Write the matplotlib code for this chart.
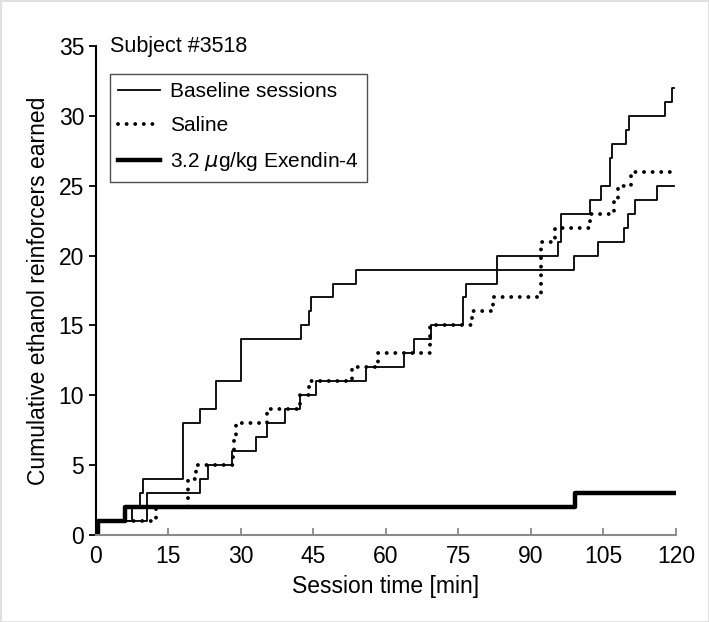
import numpy as np
import matplotlib
matplotlib.use("Agg")
import matplotlib.pyplot as plt

plt.rcParams['font.family'] = ['Liberation Sans', 'DejaVu Sans']

# step data: (time [min], cumulative count)
base1_t = [0, 0.5, 7.5, 9.1, 9.7, 18.0, 21.5, 24.8, 30.0, 42.5, 44.0, 44.5, 49.1, 53.7,
           98.8, 103.9, 109.3, 110.0, 111.5, 116.0, 119.5]
base1_y = [0, 1, 2, 3, 4, 8, 9, 11, 14, 15, 16, 17, 18, 19,
           20, 21, 22, 23, 24, 25, 25]

base2_t = [0, 0.5, 10.6, 21.5, 23.2, 28.1, 33.1, 35.3, 39.2, 42.2, 45.5, 55.8, 63.8, 65.9,
           69.3, 76.0, 76.5, 82.9, 95.5, 96.3, 102.2, 104.5, 106.4, 106.7, 109.7, 110.3,
           117.7, 119.1, 119.5]
base2_y = [0, 1, 3, 4, 5, 6, 7, 8, 9, 10, 11, 12, 13, 14,
           15, 17, 18, 20, 21, 23, 24, 25, 27, 28, 29, 30,
           31, 32, 32]

saline_t = [0, 0.5, 12.4, 19.0, 20.6, 28.4, 28.6, 28.9, 35.3, 42.2, 44.1, 53.0, 58.3, 69.1,
            77.9, 82.2, 92.0, 95.0, 102.3, 107.1, 108.1, 110.8, 119.5]
saline_y = [0, 1, 2, 4, 5, 6, 7, 8, 9, 10, 11, 12, 13, 15,
            16, 17, 21, 22, 23, 24, 25, 26, 26]

exendin_t = [0, 0.5, 6.0, 99.1, 120]
exendin_y = [0, 1, 2, 3, 3]

xticks = [0, 15, 30, 45, 60, 75, 90, 105, 120]
yticks = [0, 5, 10, 15, 20, 25, 30, 35]

fig = plt.figure(figsize=(7.09, 6.22), dpi=100)
fig.patch.set_edgecolor('#e0e0e0')
fig.patch.set_linewidth(1.0)
ax = fig.add_axes([0.1354, 0.1399, 0.818, 0.7861])

ax.step(base1_t, base1_y, where='post', color='black', lw=1.3, label='Baseline sessions')
ax.step(base2_t, base2_y, where='post', color='black', lw=1.3)
ax.step(saline_t, saline_y, where='post', color='black', lw=2.8,
        linestyle=(0, (0.01, 2.2)), dash_capstyle='round', label='Saline')
ax.step(exendin_t, exendin_y, where='post', color='black', lw=3.2,
        label=r'3.2 $\mu$g/kg Exendin-4')

ax.set_xlim(0, 120)
ax.set_ylim(0, 35)
ax.set_xticks(xticks)
ax.set_yticks(yticks)
ax.spines['top'].set_visible(False)
ax.spines['right'].set_visible(False)
ax.spines['bottom'].set_color('#8a8a8a')
ax.spines['bottom'].set_linewidth(1.5)
ax.spines['left'].set_linewidth(1.5)
ax.tick_params(axis='x', direction='in', length=5, width=1.3, color='#8a8a8a', labelsize=16.5, pad=7)
ax.tick_params(axis='y', direction='out', length=5, width=1.3, labelsize=16.5)

ax.set_xlabel('Session time [min]', fontsize=16.5, labelpad=5)
ax.set_ylabel('Cumulative ethanol reinforcers earned', fontsize=16.5, labelpad=6)

ax.text(0.025, 1.0, 'Subject #3518', transform=ax.transAxes, fontsize=15.5, va='center', ha='left')

leg = ax.legend(loc='upper left', bbox_to_anchor=(0.024, 0.943), borderaxespad=0, fontsize=15,
                frameon=True, fancybox=False, edgecolor='#222222', handlelength=2.0,
                labelspacing=0.72, borderpad=0.4, handletextpad=0.5)
leg.get_frame().set_linewidth(1.0)

fig.savefig('out.png', dpi=100)
